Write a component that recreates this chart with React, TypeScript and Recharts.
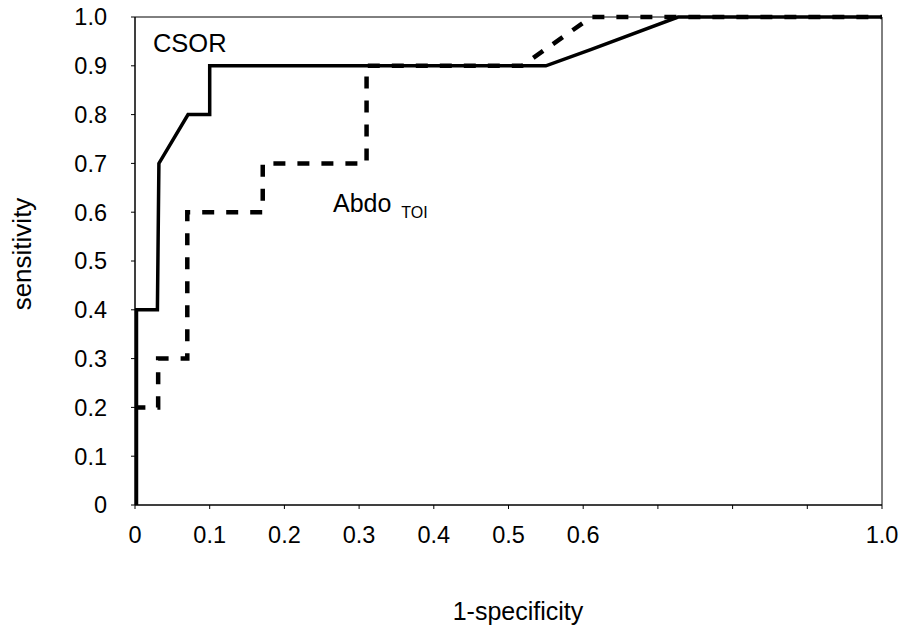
import React from "react";
import {
  LineChart,
  Line,
  XAxis,
  YAxis,
  ReferenceArea,
  ReferenceDot,
} from "recharts";

// ROC curves
const csorX = [0.002, 0.002, 0.03, 0.032, 0.071, 0.1, 0.1, 0.55, 0.61, 0.727, 1.0];
const csorY = [0, 0.4, 0.4, 0.7, 0.8, 0.8, 0.9, 0.9, 0.933, 1.0, 1.0];

const abdoX = [0, 0, 0.031, 0.031, 0.07, 0.07, 0.171, 0.171, 0.31, 0.31, 0.518, 0.611, 1.0];
const abdoY = [0, 0.2, 0.2, 0.3, 0.3, 0.6, 0.6, 0.7, 0.7, 0.9, 0.9, 1.0, 1.0];

const xTicks = [0, 0.1, 0.2, 0.3, 0.4, 0.5, 0.6, 0.7, 0.8, 0.9, 1.0];
const xTickLabels = ["0", "0.1", "0.2", "0.3", "0.4", "0.5", "0.6", "", "", "", "1.0"];
const yTicks = [0, 0.1, 0.2, 0.3, 0.4, 0.5, 0.6, 0.7, 0.8, 0.9, 1.0];
const yTickLabels = ["0", "0.1", "0.2", "0.3", "0.4", "0.5", "0.6", "0.7", "0.8", "0.9", "1.0"];

const csorData = csorX.map((x, i) => ({ x, y: csorY[i] }));
const abdoData = abdoX.map((x, i) => ({ x, y: abdoY[i] }));

const FONT = "'Liberation Sans', Arial, sans-serif";

export default function App() {
  return (
    <div
      style={{
        position: "absolute",
        left: 0,
        top: 0,
        width: 915,
        height: 626,
        background: "#fff",
        fontFamily: FONT,
      }}
    >
      <LineChart
        width={915}
        height={626}
        margin={{ top: 17, right: 33, left: 0, bottom: 0 }}
      >
        <XAxis
          type="number"
          dataKey="x"
          domain={[0, 1]}
          ticks={xTicks}
          tickFormatter={(v: number) => xTickLabels[xTicks.indexOf(v)] ?? ""}
          height={121}
          tickSize={4}
          tickMargin={17}
          stroke="#000"
          tick={{ fill: "#000", fontSize: 23.5, fontFamily: FONT }}
          allowDataOverflow
          label={{
            content: () => (
              <text
                x={518}
                y={620}
                textAnchor="middle"
                fontSize={25}
                fontFamily={FONT}
                fill="#000"
              >
                1-specificity
              </text>
            ),
          }}
        />
        <YAxis
          type="number"
          dataKey="y"
          domain={[0, 1]}
          ticks={yTicks}
          tickFormatter={(v: number) => yTickLabels[yTicks.indexOf(v)] ?? ""}
          width={135}
          tickSize={4}
          tickMargin={24}
          stroke="#000"
          tick={{ fill: "#000", fontSize: 23.5, fontFamily: FONT }}
          label={{
            content: () => (
              <text
                x={22}
                y={254}
                textAnchor="middle"
                dominantBaseline="central"
                transform="rotate(-90 22 254)"
                fontSize={26}
                fontFamily={FONT}
                fill="#000"
              >
                sensitivity
              </text>
            ),
          }}
        />
        <ReferenceArea
          x1={0}
          x2={1}
          y1={0}
          y2={1}
          fill="none"
          stroke="#000"
          strokeWidth={1}
          ifOverflow="visible"
        />
        <Line
          data={csorData}
          dataKey="y"
          type="linear"
          stroke="#000"
          strokeWidth={3.5}
          dot={false}
          activeDot={false}
          isAnimationActive={false}
        />
        <Line
          data={abdoData}
          dataKey="y"
          type="linear"
          stroke="#000"
          strokeWidth={4.5}
          strokeDasharray="12 12"
          dot={false}
          activeDot={false}
          isAnimationActive={false}
        />
        <ReferenceDot
          x={0.024}
          y={0.928}
          r={0}
          ifOverflow="visible"
          label={{
            content: (p: any) => (
              <text
                x={p.viewBox.x}
                y={p.viewBox.y}
                fontSize={25.5}
                fontFamily={FONT}
                fill="#000"
              >
                CSOR
              </text>
            ),
          }}
        />
        <ReferenceDot
          x={0.265}
          y={0.6}
          r={0}
          ifOverflow="visible"
          label={{
            content: (p: any) => (
              <text
                x={p.viewBox.x}
                y={p.viewBox.y}
                fontSize={25}
                fontFamily={FONT}
                fill="#000"
              >
                Abdo
                <tspan dx={10} dy={6} fontSize={16}>
                  TOI
                </tspan>
              </text>
            ),
          }}
        />
      </LineChart>
    </div>
  );
}
